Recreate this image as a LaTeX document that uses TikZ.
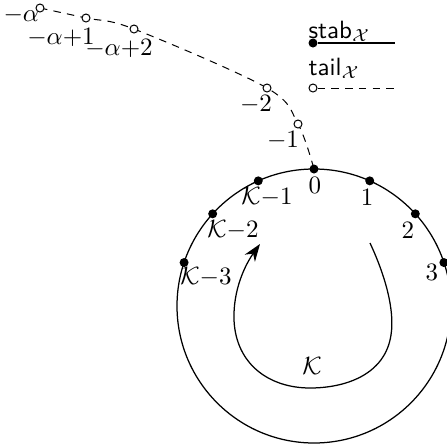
\documentclass[tikz,border=0pt]{standalone}
\usetikzlibrary{arrows.meta}
\begin{document}
\begin{tikzpicture}[x=0.4pt,y=0.4pt,
  dot/.style={circle,fill,inner sep=0pt,minimum size=3.6pt},
  hol/.style={circle,draw,fill=white,inner sep=0pt,minimum size=3.2pt,line width=0.4pt},
  dsh/.style={dash pattern=on 3pt off 2.5pt,line width=0.4pt},
  lbl/.style={inner sep=0pt},
  ln/.style={line width=0.5pt}]
\useasboundingbox (0,0) rectangle (447,-448);
% circle
\coordinate (c) at (314,-306);
\draw[ln] (c) circle[radius=137];
% tail coordinates
\coordinate (ta) at (40,-8);
\coordinate (tb) at (86,-18);
\coordinate (tc) at (134,-29);
\coordinate (td) at (267,-88);
\coordinate (te) at (298,-124);
\coordinate (t0) at ([shift={(90:137)}]c);
\draw[dsh] plot[smooth,tension=0.55] coordinates {(ta) (tb) (tc) (td) (te) (t0)};
\foreach \n in {ta,tb,tc,td,te} \node[hol] (h\n) at (\n) {};
% labels of tail
\node[lbl,anchor=west] (la) at (3,-15) {$-\alpha$};
\node[lbl] (lb) at (61,-37) {$-\alpha{+}1$};
\node[lbl] (lc) at (119,-48) {$-\alpha{+}2$};
\node[lbl] (ld) at (256,-104) {$-2$};
\node[lbl] (le) at (283,-140) {$-1$};
% dots on circle
\node[dot] (p0) at ([shift={(90:137)}]c) {};
\node[dot] (p1) at ([shift={(66:137)}]c) {};
\node[dot] (p2) at ([shift={(42.3:137)}]c) {};
\node[dot] (p3) at ([shift={(18.5:137)}]c) {};
\node[dot] (k1) at ([shift={(114:137)}]c) {};
\node[dot] (k2) at ([shift={(137.7:137)}]c) {};
\node[dot] (k3) at ([shift={(161.5:137)}]c) {};
\node[lbl] (l0) at (315,-185) {$0$};
\node[lbl] (l1) at (367,-197) {$1$};
\node[lbl] (l2) at (408,-230) {$2$};
\node[lbl] (l3) at (432,-272) {$3$};
\node[lbl] (lk1) at (267,-197) {$\mathcal{K}{-}1$};
\node[lbl] (lk2) at (233,-230) {$\mathcal{K}{-}2$};
\node[lbl] (lk3) at (206,-277) {$\mathcal{K}{-}3$};
% inner arrow
\coordinate (s) at (370,-243);
\coordinate (e) at (260,-244);
\draw[ln,-{Stealth[length=7pt,width=5pt]}] (s) .. controls (385,-275) and (395,-310) .. (391,-335)
  .. controls (385,-375) and (345,-388) .. (310,-388)
  .. controls (270,-388) and (236,-365) .. (234,-320)
  .. controls (233,-290) and (245,-265) .. (e);
\node[lbl] (lk) at (312,-366) {$\mathcal{K}$};
% legend
\node[lbl,anchor=base west] (stab) at (308,-38) {\textsf{stab}$_{\mathcal{X}}$};
\node[dot] (sd) at (313,-43) {};
\coordinate (se) at (395,-43);
\draw[ln] (sd) -- (se);
\node[lbl,anchor=base west] (tail) at (308,-75) {\textsf{tail}$_{\mathcal{X}}$};
\node[hol] (td2) at (313,-88) {};
\coordinate (tee) at (395,-88);
\draw[dsh] (td2) -- (tee);
\end{tikzpicture}
\end{document}
